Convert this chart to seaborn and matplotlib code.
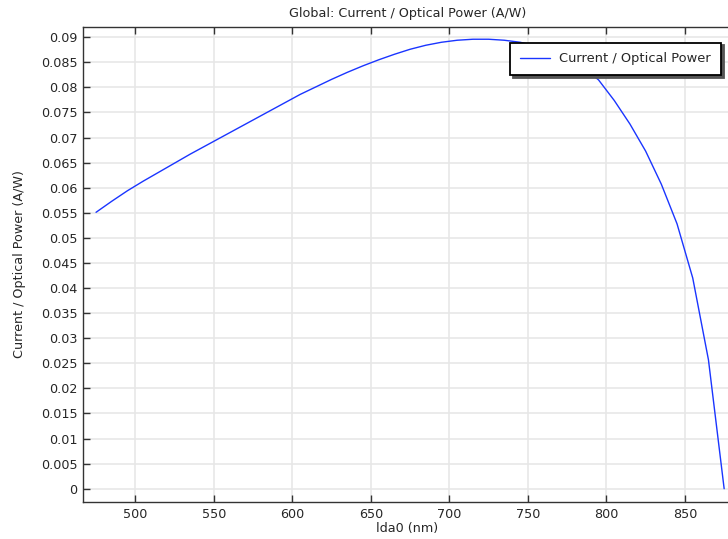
import numpy as np
import matplotlib
matplotlib.use("Agg")
import matplotlib.pyplot as plt
import seaborn as sns
from matplotlib.ticker import FuncFormatter

# wavelength sweep (nm) and responsivity-like ratio (A/W)
lda0 = [475, 485, 495, 505, 515, 525, 535, 545, 555, 565, 575, 585, 595,
        605, 615, 625, 635, 645, 655, 665, 675, 685, 695, 705, 715, 725,
        735, 745, 755, 765, 775, 785, 795, 805, 815, 825, 835, 845, 855,
        865, 875]
ratio = [0.0551, 0.0573, 0.0594, 0.0613, 0.0631, 0.0649, 0.0667, 0.0684,
         0.0701, 0.0718, 0.0735, 0.0752, 0.0769, 0.0786, 0.0801, 0.0816,
         0.0830, 0.0843, 0.0855, 0.0866, 0.0876, 0.0884, 0.0890, 0.0894,
         0.0896, 0.0896, 0.0894, 0.0890, 0.0883, 0.0872, 0.0860, 0.0840,
         0.0815, 0.0774, 0.0727, 0.0673, 0.0607, 0.0528, 0.0420, 0.0257,
         0.0]

x_ticks = [500, 550, 600, 650, 700, 750, 800, 850]
y_ticks = [0, 0.005, 0.01, 0.015, 0.02, 0.025, 0.03, 0.035, 0.04, 0.045,
           0.05, 0.055, 0.06, 0.065, 0.07, 0.075, 0.08, 0.085, 0.09]

sns.set_style("whitegrid")
plt.rcParams['font.family'] = ['DejaVu Sans']

W, H = 728, 539
fig = plt.figure(figsize=(W / 100, H / 100), dpi=100)
# axes run past the right edge of the picture, like the reference
ax = fig.add_axes([83 / W, 1 - 502 / H, (732 - 83) / W, (502 - 26.7) / H])

sns.lineplot(x=lda0, y=ratio, ax=ax, color='#1a35ff', linewidth=1.0,
             label='Current / Optical Power')

ax.set_xlim(466.7, 880)
ax.set_ylim(-0.00265, 0.0921)
ax.set_xticks(x_ticks)
ax.set_yticks(y_ticks)
ax.yaxis.set_major_formatter(FuncFormatter(lambda v, p: '{:g}'.format(round(v, 4))))

ax.grid(True, color='#e6e6e6', linewidth=1.1)
for s in ax.spines.values():
    s.set_color('#333333')
    s.set_linewidth(1.0)
ax.tick_params(direction='in', length=5, width=1, color='#333333',
               labelsize=9.2, pad=4, top=True, right=False, bottom=True, left=True)

ax.set_title('Global: Current / Optical Power (A/W)', fontsize=9.2, pad=7)
ax.set_xlabel('lda0 (nm)', fontsize=9.2, labelpad=1)
ax.set_ylabel('Current / Optical Power (A/W)', fontsize=9.2, labelpad=11)

leg = ax.legend(loc='upper right', bbox_to_anchor=(721 / W, 1 - 42.7 / H),
                bbox_transform=fig.transFigure, fontsize=9.4, frameon=True,
                fancybox=False, shadow={'color': '#555555', 'alpha': 1},
                handlelength=2.3, handletextpad=0.7, borderpad=0.75,
                borderaxespad=0)
leg.get_frame().set_edgecolor('black')
leg.get_frame().set_linewidth(1.3)
leg.get_frame().set_facecolor('white')
leg.get_frame().set_alpha(1)

fig.savefig('out.png', dpi=100)
